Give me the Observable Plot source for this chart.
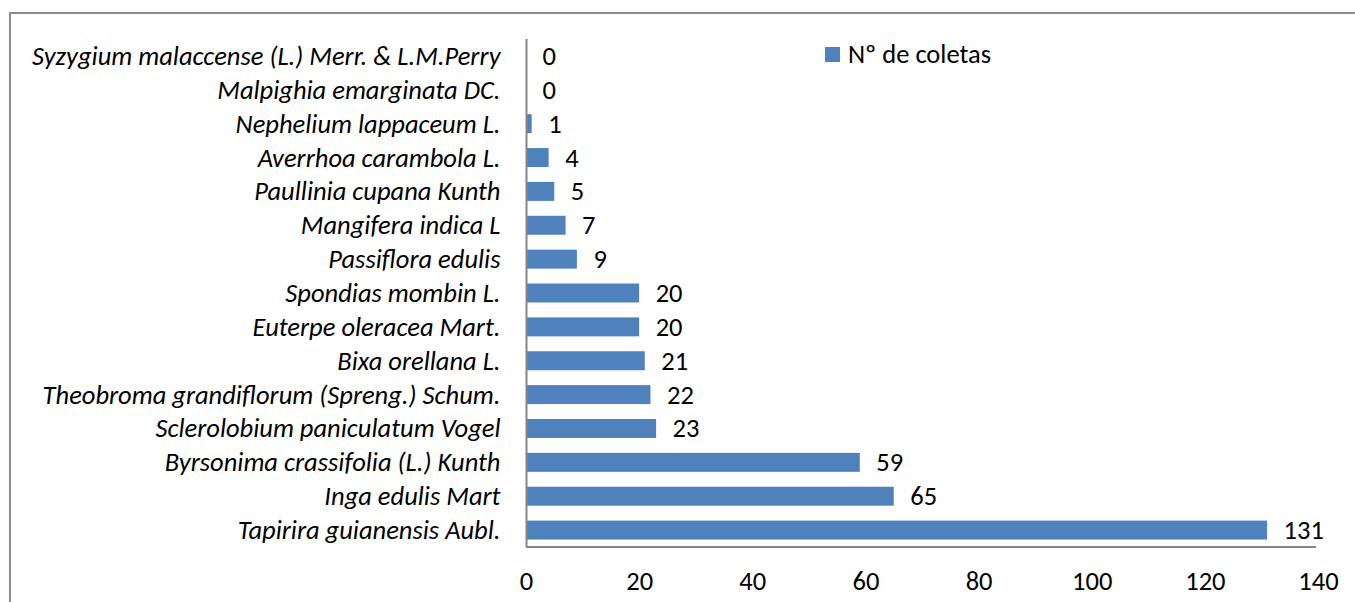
<!DOCTYPE html>
<html>
<head>
<meta charset="utf-8">
<script src="https://cdn.jsdelivr.net/npm/d3@7"></script>
<script src="https://cdn.jsdelivr.net/npm/@observablehq/plot@0.6"></script>
<style>
  html, body { margin: 0; padding: 0; background: #fff; }
  #wrap { position: relative; width: 1355px; height: 602px; overflow: hidden; font-family: Carlito, Lato, "Open Sans", sans-serif; }
  #frame { position: absolute; left: 9px; top: 12px; width: 1400px; height: 700px; border-top: 2px solid #8c8c8c; border-left: 2px solid #8c8c8c; box-sizing: border-box; }
  #legend { position: absolute; left: 825px; top: 38px; font-size: 26.5px; color: #000; display: flex; align-items: center; }
  #legend .sw { width: 15px; height: 15px; background: #4F81BD; margin-right: 8px; }
  #chart { position: absolute; left: 0; top: 0; }
</style>
</head>
<body>
<div id="wrap">
  <div id="frame"></div>
  <div id="chart"></div>
  <div id="legend"><span class="sw"></span><span id="legtxt"></span></div>
</div>
<script>
const species = [
  "Syzygium malaccense (L.) Merr. & L.M.Perry",
  "Malpighia emarginata DC.",
  "Nephelium lappaceum L.",
  "Averrhoa carambola L.",
  "Paullinia cupana Kunth",
  "Mangifera indica L",
  "Passiflora edulis",
  "Spondias mombin L.",
  "Euterpe oleracea Mart.",
  "Bixa orellana L.",
  "Theobroma grandiflorum (Spreng.) Schum.",
  "Sclerolobium paniculatum Vogel",
  "Byrsonima crassifolia (L.) Kunth",
  "Inga edulis Mart",
  "Tapirira guianensis Aubl."
];
const coletas = [0, 0, 1, 4, 5, 7, 9, 20, 20, 21, 22, 23, 59, 65, 131];
const xTicks = [0, 20, 40, 60, 80, 100, 120, 140];
const seriesName = "Nº de coletas";

const data = species.map((s, i) => ({species: s, value: coletas[i]}));
document.getElementById("legtxt").textContent = seriesName;

const FS = 26.5;
const ML = 526, MR = 37, MT = 39, MB = 55, W = 1355, H = 602;
const chart = Plot.plot({
  width: W,
  height: H,
  marginLeft: ML,
  marginRight: MR,
  marginTop: MT,
  marginBottom: MB,
  style: {fontFamily: "Carlito, Lato, 'Open Sans', sans-serif", fontSize: FS + "px", color: "#000", background: "transparent"},
  x: {domain: [0, 140], ticks: xTicks, label: null},
  y: {domain: species, paddingInner: 0.44, paddingOuter: 0.22, round: false, label: null},
  marks: [
    Plot.barX(data, {x: "value", y: "species", fill: "#4F81BD"}),
    Plot.text(data, {x: "value", y: "species", text: d => String(d.value), textAnchor: "start", dx: 16, fontSize: FS, fill: "#000"}),
    Plot.ruleX([0], {stroke: "#868686", strokeWidth: 2}),
    Plot.axisY({tickSize: 0, tickPadding: 26, fontStyle: "italic", fontSize: FS, label: null}),
    Plot.axisX({ticks: xTicks, tickSize: 0, tickPadding: 24, fontSize: FS, label: null, tickFormat: d => String(d)})
  ]
});
document.getElementById("chart").appendChild(chart);

// bottom category-axis baseline
d3.select(chart).append("line")
  .attr("x1", ML).attr("x2", W - MR - 2)
  .attr("y1", H - MB).attr("y2", H - MB)
  .attr("stroke", "#868686").attr("stroke-width", 2);
</script>
</body>
</html>
